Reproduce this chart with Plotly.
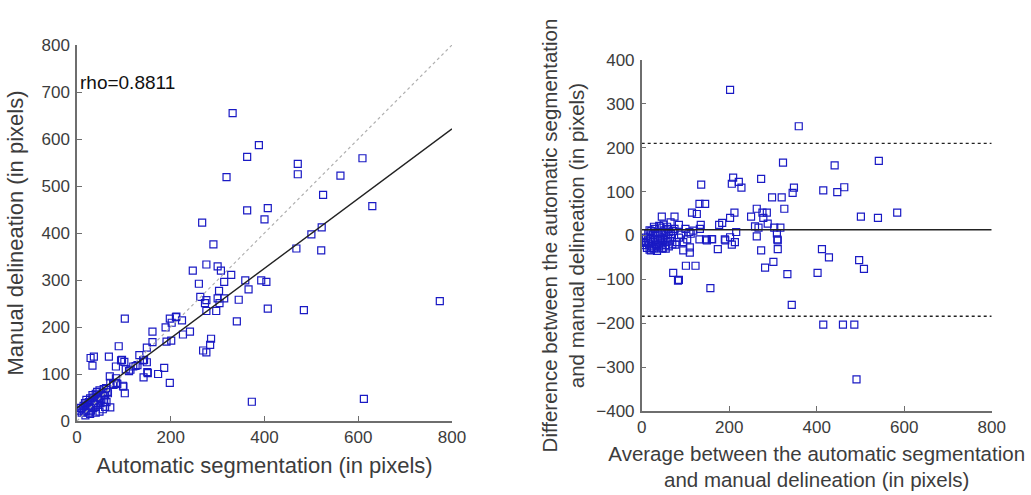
import plotly.graph_objects as go

# ---------------- Data: left panel (correlation) ----------------
auto_seg = [332, 388, 363, 319, 471, 471, 609, 562, 525, 630, 363, 407, 400, 267, 522,
            500, 468, 521, 291, 247, 276, 300, 307, 329, 314, 260, 359, 393, 404, 366,
            263, 276, 273, 303, 300, 314, 304, 345, 276, 297, 407, 484, 774, 341, 286,
            284, 269, 276, 102, 198, 211, 224, 202, 189, 241, 226, 161, 161, 191, 201,
            149, 133, 89, 143, 149, 96, 101, 83, 104, 111, 120, 129, 68, 29, 36,
            33, 151, 142, 173, 186, 198, 70, 83, 71, 84, 98, 102, 78, 66, 71,
            373, 612, 212, 141, 150, 114, 125, 94, 77, 86, 99, 57, 57,
            5, 8, 10, 12, 14, 15, 17, 18, 20, 20, 22, 23, 25, 25, 27, 28, 30, 30,
            32, 33, 35, 35, 37, 38, 40, 40, 42, 43, 45, 45, 47, 48, 50, 50, 52, 55,
            55, 57, 58, 60, 62, 63, 65, 40, 48, 28, 18, 60]
manual_del = [655, 587, 562, 519, 547, 525, 559, 522, 481, 457, 448, 453, 429, 422, 412,
              397, 367, 363, 376, 320, 333, 329, 320, 311, 296, 292, 299, 299, 296, 280,
              264, 257, 251, 277, 261, 261, 251, 258, 234, 234, 239, 236, 255, 212, 175,
              162, 150, 146, 218, 218, 221, 214, 209, 199, 190, 184, 190, 168, 169, 171,
              156, 140, 159, 130, 125, 130, 126, 116, 110, 106, 116, 119, 137, 134, 137,
              118, 102, 93, 100, 113, 81, 95, 91, 81, 81, 75, 59, 77, 59, 29,
              41, 47, 222, 129, 104, 109, 117, 129, 79, 79, 73, 41, 56,
              22, 28, 18, 25, 32, 20, 38, 27, 22, 45, 30, 35, 18, 40, 28, 48, 22, 35,
              42, 55, 28, 50, 38, 45, 30, 58, 48, 62, 35, 52, 42, 65, 55, 38, 47, 60,
              25, 68, 45, 55, 70, 40, 62, 18, 20, 15, 12, 30]
rho_text = "rho=0.8811"
fit_intercept = 28.0
fit_slope = 0.742
x_line = [0, 800]

# ---------------- Data: right panel (Bland-Altman) ----------------
avg_val = [202, 359, 323, 441, 542, 136, 209, 206, 222, 228, 273, 348, 345, 415, 447,
           463, 132, 145, 298, 320, 326, 115, 126, 46, 75, 250, 263, 276, 286, 212,
           202, 501, 540, 584, 85, 135, 177, 184, 278, 288, 259, 267, 303, 317, 216,
           202, 263, 309, 310, 109, 118, 133, 160, 190, 147, 104, 10, 85, 112, 95,
           110, 110, 132, 149, 161, 174, 191, 206, 213, 273, 311, 311, 301, 282, 333,
           412, 428, 402, 497, 508, 343, 415, 460, 486, 491, 72, 83, 85, 101, 123,
           157, 77, 47, 21,
           5, 8, 10, 12, 14, 15, 17, 18, 20, 22, 23, 25, 26, 28, 30, 30, 32, 34,
           35, 37, 38, 40, 42, 43, 45, 47, 48, 50, 52, 54, 55, 57, 58, 60, 62, 63,
           65, 67, 70, 72, 25, 35, 45, 55, 20, 28, 40, 18, 50, 60, 66, 75, 80, 90,
           100, 95]
diff_val = [332, 249, 166, 160, 170, 116, 132, 118, 122, 109, 129, 109, 97, 103, 99,
            110, 72, 72, 87, 87, 61, 52, 49, 43, 43, 43, 61, 52, 52, 52,
            40, 43, 40, 52, 24, 24, 24, 29, 40, 27, 21, 18, 18, 18, 8,
            -4, -2, 5, -9, 8, 11, 15, -8, -9, -9, -9, -17, -5, 4, -34,
            -27, -39, -9, -11, -9, -31, -11, -21, -15, -34, -11, -31, -60, -73, -88,
            -31, -50, -85, -56, -76, -158, -203, -203, -203, -328, -85, -103, -101, -69, -69,
            -120, -21, -30, -34,
            -15, -22, -5, -28, -12, 5, -20, -32, -8, 10, -25, -15, 2, -30, -10, 15, -20, 0,
            -35, -12, 8, -25, -5, 18, -18, 5, -28, -10, 12, -22, 0, -15, 20, -5, -25, 8,
            -12, 3, -20, 10, -28, -22, -8, -30, 0, 20, 22, 12, 25, 15, 30, 15, -15, 2,
            15, -15]
mean_diff = 13
upper_loa = 210
lower_loa = -184

marker_color = "#1a1ac4"
axis_color = "#6e6e6e"
text_color = "#3c3c3c"
font_family = "Liberation Sans, Arial, sans-serif"

fig = go.Figure()

# Left panel
fig.add_trace(go.Scatter(
    x=auto_seg, y=manual_del, mode="markers",
    marker=dict(symbol="square-open", size=7, color=marker_color, line=dict(width=1.2)),
    xaxis="x", yaxis="y", showlegend=False))
fig.add_trace(go.Scatter(
    x=x_line, y=x_line, mode="lines",
    line=dict(color="#b0b0b0", width=1.2, dash="dot"),
    xaxis="x", yaxis="y", showlegend=False))
fig.add_trace(go.Scatter(
    x=x_line, y=[fit_intercept + fit_slope * v for v in x_line], mode="lines",
    line=dict(color="#222222", width=1.4),
    xaxis="x", yaxis="y", showlegend=False))

# Right panel
fig.add_trace(go.Scatter(
    x=avg_val, y=diff_val, mode="markers",
    marker=dict(symbol="square-open", size=7, color=marker_color, line=dict(width=1.2)),
    xaxis="x2", yaxis="y2", showlegend=False))
for val, dash, w in [(mean_diff, "solid", 1.6), (upper_loa, "dot", 1.3), (lower_loa, "dot", 1.3)]:
    fig.add_trace(go.Scatter(
        x=x_line, y=[val, val], mode="lines",
        line=dict(color="#222222", width=w, dash=dash),
        xaxis="x2", yaxis="y2", showlegend=False))

axis_common = dict(
    showline=True, linecolor=axis_color, linewidth=1.5, mirror=False,
    ticks="inside", ticklen=5, tickcolor=axis_color, tickwidth=1.2,
    showgrid=False, zeroline=False, automargin=False,
    tickfont=dict(family=font_family, size=17, color=text_color),
)
left_title_font = dict(family=font_family, size=22, color=text_color)
right_title_font = dict(family=font_family, size=20.5, color=text_color)

fig.update_layout(
    width=1031, height=495,
    margin=dict(l=0, r=0, t=0, b=0),
    paper_bgcolor="white", plot_bgcolor="white",
    font=dict(family=font_family, color=text_color),
    xaxis=dict(domain=[77 / 1031, 452 / 1031], range=[0, 800],
               tickvals=[0, 200, 400, 600, 800], anchor="y",
               title=dict(text="Automatic segmentation (in pixels)", standoff=11,
                          font=left_title_font),
               **axis_common),
    yaxis=dict(domain=[(495 - 421) / 495, (495 - 45) / 495], range=[0, 800],
               tickvals=[0, 100, 200, 300, 400, 500, 600, 700, 800], anchor="x",
               ticklabelstandoff=2,
               title=dict(text="Manual delineation (in pixels)", standoff=12,
                          font=left_title_font),
               **axis_common),
    xaxis2=dict(domain=[641.7 / 1031, 991.7 / 1031], range=[0, 800],
                tickvals=[0, 200, 400, 600, 800], anchor="y2",
                title=dict(text="Average between the automatic segmentation<br>and manual delineation (in pixels)",
                           standoff=10, font=right_title_font),
                **axis_common),
    yaxis2=dict(domain=[(495 - 411) / 495, (495 - 60) / 495], range=[-400, 400],
                tickvals=[-400, -300, -200, -100, 0, 100, 200, 300, 400], anchor="x2",
                ticklabelstandoff=2,
                title=dict(text="Difference between the automatic segmentation<br>and manual delineation (in pixels)",
                           standoff=6, font=right_title_font),
                **axis_common),
    annotations=[dict(text=rho_text, x=2, y=720, xref="x", yref="y",
                      xanchor="left", yanchor="middle", showarrow=False,
                      font=dict(family=font_family, size=19, color="#111111"))],
)

fig.write_html("out.html", config={"displayModeBar": False},
               post_script="document.body.style.margin='0';")
